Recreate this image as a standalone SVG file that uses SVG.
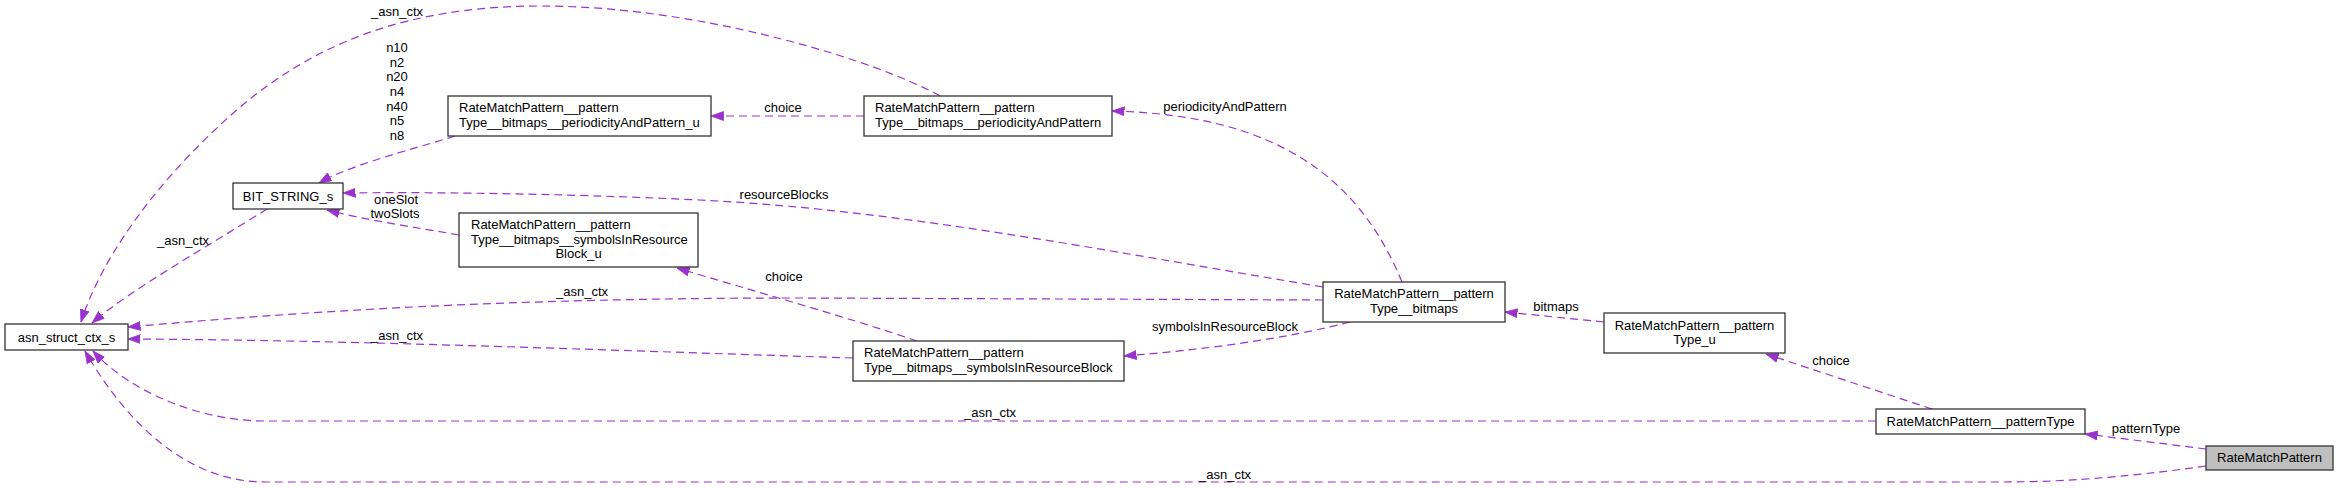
<svg xmlns="http://www.w3.org/2000/svg" width="2339" height="488" viewBox="0 0 2339 488">
<style>
text{font-family:"Liberation Sans",Arial,sans-serif;font-size:13px;fill:#000}
.n rect{fill:#fff;stroke:#333;stroke-width:1.3}
.n rect.g{fill:#bfbfbf}
.c{text-anchor:middle}
.e path{fill:none;stroke:#9a32cd;stroke-width:1.2;stroke-dasharray:8,5;marker-end:url(#ah)}
.lbl text{text-anchor:middle}
</style>
<defs>
<marker id="ah" markerUnits="userSpaceOnUse" markerWidth="13" markerHeight="10" viewBox="0 0 13 10" refX="12.5" refY="5" orient="auto">
<path d="M0,0.5 L12.5,5 L0,9.5 z" fill="#9a32cd" stroke="#9a32cd" stroke-width="0.8"/>
</marker>
</defs>
<rect width="2339" height="488" fill="#fff"/>

<g id="connectors" class="e">
<path d="M940,96 C880,62 700,5 537,6 C380,7 290,60 220,125 C150,190 100,262 81,322"/>
<path d="M864,116 L711,116"/>
<path d="M455,136 C410,150 350,165 319,183"/>
<path d="M1323,287 C1100,250 900,210 700,200 C550,193 420,192 343,193"/>
<path d="M459,235 C420,228 370,221 327,210"/>
<path d="M267,209 C210,245 130,290 92,323"/>
<path d="M1323,300 L800,298 C500,298 300,312 128,327"/>
<path d="M853,358 C600,350 350,340 128,339"/>
<path d="M917,341 C850,318 750,290 677,268"/>
<path d="M1350,322 C1280,340 1200,350 1124,356"/>
<path d="M1402,282 C1360,180 1280,115 1112,111"/>
<path d="M1604,322 L1505,312"/>
<path d="M1932,409 L1766,354"/>
<path d="M1876,421 L265,421 C200,421 130,392 93,351"/>
<path d="M2206,449 L2085,434"/>
<path d="M2206,466 C2120,478 2060,482 2000,482 L265,482 C180,482 120,412 85,351"/>
</g>

<g id="edge-labels" class="lbl">
<text x="397" y="16">_asn_ctx</text>
<text x="397" y="52">n10</text>
<text x="397" y="67">n2</text>
<text x="397" y="81">n20</text>
<text x="397" y="96">n4</text>
<text x="397" y="111">n40</text>
<text x="397" y="125">n5</text>
<text x="397" y="140">n8</text>
<text x="783" y="112">choice</text>
<text x="1225" y="111">periodicityAndPattern</text>
<text x="784" y="199">resourceBlocks</text>
<text x="396" y="204">oneSlot</text>
<text x="395" y="218">twoSlots</text>
<text x="183" y="245">_asn_ctx</text>
<text x="784" y="281">choice</text>
<text x="582" y="296">_asn_ctx</text>
<text x="397" y="340">_asn_ctx</text>
<text x="1225" y="331">symbolsInResourceBlock</text>
<text x="1556" y="311">bitmaps</text>
<text x="1831" y="365">choice</text>
<text x="990" y="417">_asn_ctx</text>
<text x="2146" y="433">patternType</text>
<text x="1225" y="479">_asn_ctx</text>
</g>

<g id="asn_struct_ctx_s" class="n">
<rect x="5" y="324" width="123" height="26"/>
<text x="66.5" y="341.5" class="c">asn_struct_ctx_s</text>
</g>
<g id="BIT_STRING_s" class="n">
<rect x="233" y="183" width="110" height="26"/>
<text x="288" y="200.5" class="c">BIT_STRING_s</text>
</g>
<g id="periodicityAndPattern_u" class="n">
<rect x="448" y="96" width="263" height="40"/>
<text x="459" y="112">RateMatchPattern__pattern</text>
<text x="459" y="127">Type__bitmaps__periodicityAndPattern_u</text>
</g>
<g id="periodicityAndPattern" class="n">
<rect x="864" y="96" width="248" height="40"/>
<text x="875" y="112">RateMatchPattern__pattern</text>
<text x="875" y="127">Type__bitmaps__periodicityAndPattern</text>
</g>
<g id="symbolsInResourceBlock_u" class="n">
<rect x="459" y="213" width="239" height="54"/>
<text x="471" y="228.5">RateMatchPattern__pattern</text>
<text x="471" y="243.5">Type__bitmaps__symbolsInResource</text>
<text x="578.5" y="258" class="c">Block_u</text>
</g>
<g id="symbolsInResourceBlock" class="n">
<rect x="853" y="341" width="271" height="40"/>
<text x="864" y="356.5">RateMatchPattern__pattern</text>
<text x="864" y="372">Type__bitmaps__symbolsInResourceBlock</text>
</g>
<g id="bitmaps" class="n">
<rect x="1323" y="282" width="182" height="40"/>
<text x="1414" y="298" class="c">RateMatchPattern__pattern</text>
<text x="1414" y="313" class="c">Type__bitmaps</text>
</g>
<g id="Type_u" class="n">
<rect x="1604" y="313" width="181" height="40"/>
<text x="1694.5" y="329.5" class="c">RateMatchPattern__pattern</text>
<text x="1694.5" y="344" class="c">Type_u</text>
</g>
<g id="patternType" class="n">
<rect x="1876" y="409" width="209" height="25"/>
<text x="1980.5" y="425.5" class="c">RateMatchPattern__patternType</text>
</g>
<g id="RateMatchPattern" class="n">
<rect x="2206" y="446" width="127" height="24" class="g"/>
<text x="2269.5" y="462" class="c">RateMatchPattern</text>
</g>
</svg>
